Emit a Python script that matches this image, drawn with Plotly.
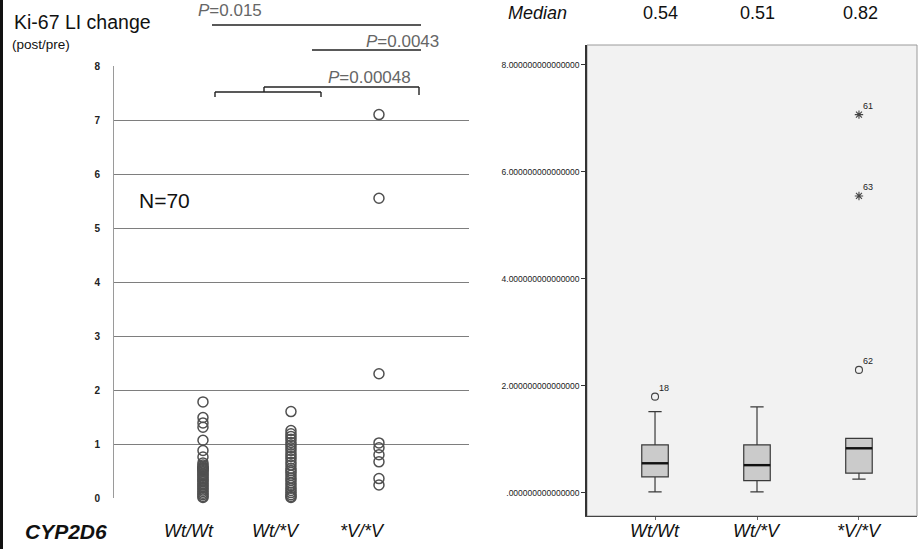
import plotly.graph_objects as go

W, H = 918, 549

# ---------------- data ----------------
categories = ["Wt/Wt", "Wt/*V", "*V/*V"]
wtwt_values = [1.78, 1.49, 1.39, 1.31, 1.07, 0.88, 0.76, 0.65, 0.61, 0.58, 0.56, 0.55,
               0.54, 0.53, 0.51, 0.49, 0.46, 0.43, 0.41, 0.38, 0.35, 0.33, 0.30, 0.27,
               0.24, 0.21, 0.18, 0.15, 0.12, 0.09, 0.06, 0.03, 0.01]
wtv_values = [1.60, 1.25, 1.19, 1.14, 1.09, 1.03, 0.98, 0.93, 0.88, 0.82, 0.77, 0.72,
              0.66, 0.61, 0.55, 0.51, 0.47, 0.42, 0.37, 0.33, 0.28, 0.23, 0.18, 0.14,
              0.10, 0.06, 0.03, 0.01]
vv_values = [7.10, 5.55, 2.30, 1.02, 0.93, 0.80, 0.67, 0.36, 0.24]

median_labels = ["0.54", "0.51", "0.82"]

# box statistics (right panel)
box_q1 = [0.30, 0.23, 0.37]
box_median = [0.555, 0.52, 0.835]
box_q3 = [0.90, 0.90, 1.02]
box_lower = [0.02, 0.02, 0.26]
box_upper = [1.52, 1.61, 1.02]

outlier_cat = [0, 2, 2, 2]
outlier_val = [1.80, 2.30, 5.55, 7.07]
outlier_id = ["18", "62", "63", "61"]
outlier_symbol = ["circle-open", "circle-open", "asterisk-open", "asterisk-open"]

left_yticks = [0, 1, 2, 3, 4, 5, 6, 7, 8]
right_yticks = [0, 2, 4, 6, 8]
right_yticklabels = [".000000000000000", "2.000000000000000", "4.000000000000000",
                     "6.000000000000000", "8.000000000000000"]

# --------------- layout helpers ---------------
def px_x(p):
    return p / W

def px_y(p):
    return 1 - p / H

FONT = "Liberation Sans, Arial, sans-serif"
NARROW = "Liberation Sans Narrow, Liberation Sans, Arial, sans-serif"

fig = go.Figure()

# left scatter
for i, vals in enumerate([wtwt_values, wtv_values, vv_values]):
    fig.add_trace(go.Scatter(
        x=[i] * len(vals), y=vals, mode="markers",
        marker=dict(symbol="circle-open", size=10, color="#505050",
                    line=dict(width=1.5, color="#505050")),
        xaxis="x", yaxis="y", showlegend=False, cliponaxis=False, hoverinfo="skip"))

# right boxes
for i in range(3):
    fig.add_trace(go.Box(
        x=[i], q1=[box_q1[i]], median=[box_median[i]], q3=[box_q3[i]],
        lowerfence=[box_lower[i]], upperfence=[box_upper[i]],
        width=0.26, whiskerwidth=0.5, boxpoints=False,
        fillcolor="#cbcbcb", line=dict(color="#3a3a3a", width=1.2),
        xaxis="x2", yaxis="y2", showlegend=False, hoverinfo="skip"))

# thicker medians from the data
shapes = []
for i in range(3):
    shapes.append(dict(type="line", xref="x2", yref="y2",
                       x0=i - 0.13, x1=i + 0.13, y0=box_median[i], y1=box_median[i],
                       line=dict(color="#111", width=2.4)))

# outliers
fig.add_trace(go.Scatter(
    x=outlier_cat, y=outlier_val, mode="markers",
    marker=dict(symbol=outlier_symbol, size=7, color="#444",
                line=dict(width=1.1, color="#444")),
    xaxis="x2", yaxis="y2", showlegend=False, cliponaxis=False, hoverinfo="skip"))
for c, v, t in zip(outlier_cat, outlier_val, outlier_id):
    fig.add_annotation(x=c, y=v, xref="x2", yref="y2", text=t, showarrow=False,
                       xshift=9, yshift=9, font=dict(size=9, color="#222", family=NARROW))

# ---------------- axes ----------------
fig.update_layout(
    width=W, height=H, margin=dict(l=0, r=0, t=0, b=0, pad=0, autoexpand=False),
    paper_bgcolor="white", plot_bgcolor="white",
    xaxis=dict(domain=[px_x(114), px_x(469)], range=[-1.011, 3.023],
               showgrid=False, zeroline=False, showticklabels=False, showline=False,
               ticks="", automargin=False),
    yaxis=dict(domain=[px_y(498), px_y(66)], range=[0, 8], anchor="x",
               tickvals=left_yticks, ticktext=["<b>%d</b>" % t for t in left_yticks],
               showgrid=True, gridcolor="#7e7e7e", gridwidth=1, zeroline=False,
               showline=True, linecolor="#9a9a9a", linewidth=1,
               ticks="", ticklabelstandoff=11, automargin=False,
               tickfont=dict(size=10, color="#222", family=FONT)),
    xaxis2=dict(domain=[px_x(587), px_x(917)], range=[-0.667, 2.569], anchor="y2",
                tickvals=[0, 1, 2], ticktext=["", "", ""],
                showgrid=False, zeroline=False, showline=True, linecolor="#444",
                linewidth=1.3, mirror=False, ticks="outside", ticklen=3,
                tickcolor="#666", automargin=False),
    yaxis2=dict(domain=[px_y(516), px_y(45)], range=[-0.43, 8.37], anchor="x2",
                tickvals=right_yticks, ticktext=right_yticklabels,
                showgrid=False, zeroline=False, showline=True, linecolor="#333",
                linewidth=1.5, ticks="outside", ticklen=4, tickcolor="#333",
                automargin=False,
                tickfont=dict(size=8.5, color="#222", family=NARROW)),
)

# right panel background and top/right frame
shapes.append(dict(type="rect", xref="paper", yref="paper", layer="below",
                   x0=px_x(587), x1=px_x(917), y0=px_y(516), y1=px_y(45),
                   fillcolor="#f2f2f2", line=dict(color="#9a9a9a", width=1)))
# left black border strip of the image
shapes.append(dict(type="line", xref="paper", yref="paper", x0=px_x(1.5), x1=px_x(1.5),
                   y0=0, y1=1, line=dict(color="#111", width=3)))

# P-value brackets (annotation graphics)
def seg(x0, y0, x1, y1, w=1.4, c="#222"):
    shapes.append(dict(type="line", xref="paper", yref="paper",
                       x0=px_x(x0), y0=px_y(y0), x1=px_x(x1), y1=px_y(y1),
                       line=dict(color=c, width=w)))

seg(212, 25, 421, 25)
seg(312, 50, 421, 50)
seg(215, 92, 321, 92)
seg(215, 92, 215, 97)
seg(321, 92, 321, 97)
seg(264, 92, 264, 87)
seg(264, 87, 419, 87)
seg(419, 87, 419, 95)

fig.update_layout(shapes=shapes)

def text(x, y, t, size, color="#111", family=FONT, xanchor="center"):
    fig.add_annotation(x=px_x(x), y=px_y(y), xref="paper", yref="paper", text=t,
                       showarrow=False, xanchor=xanchor, yanchor="middle",
                       font=dict(size=size, color=color, family=family))

text(12, 22, "Ki-67 LI change", 19.5, xanchor="left")
text(10, 45, "(post/pre)", 13.5, xanchor="left")
text(230, 11, "<i>P</i>=0.015", 17, color="#666")
text(402, 42, "<i>P</i>=0.0043", 17, color="#666")
text(369, 77, "<i>P</i>=0.00048", 17, color="#666")
text(164, 200, "N=70", 21)

text(66, 531, "<b><i>CYP2D6</i></b>", 21, family=FONT)
for cx, lab in zip([189, 276, 362], categories):
    text(cx, 531, "<i>" + lab + "</i>", 18, family=NARROW)
for cx, lab in zip([655, 757, 859], categories):
    text(cx, 531, "<i>" + lab + "</i>", 18, family=NARROW)

text(537, 13, "<i>Median</i>", 18)
for cx, lab in zip([660, 757, 860], median_labels):
    text(cx, 13, lab, 18)

fig.write_html(
    "out.html",
    config={"displayModeBar": False},
    post_script="document.body.style.margin='0';document.body.style.overflow='hidden';",
)
